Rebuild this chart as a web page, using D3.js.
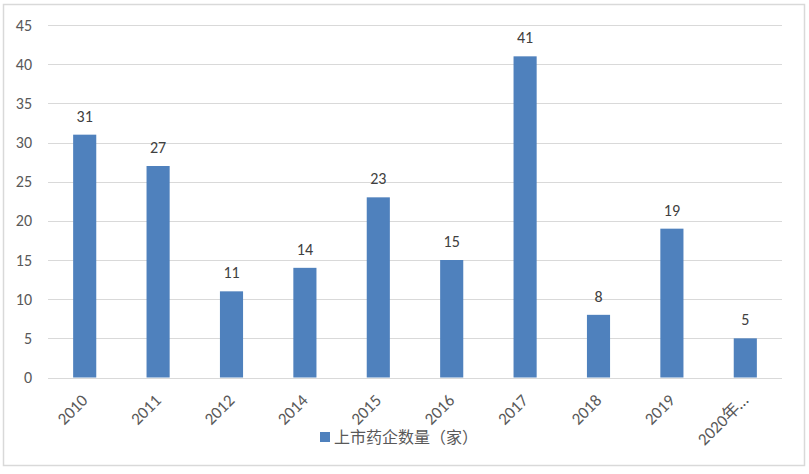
<!DOCTYPE html>
<html>
<head>
<meta charset="utf-8">
<script src="https://d3js.org/d3.v7.min.js"></script>
<style>
  body { margin: 0; background: #fff; }
  text { font-family: Calibri, "Liberation Sans", "Noto Sans CJK SC", sans-serif; }
</style>
</head>
<body>
<div id="chart"></div>
<script>
// years and counts
var years = ["2010", "2011", "2012", "2014", "2015", "2016", "2017", "2018", "2019", "2020年…"];
var counts = [31, 27, 11, 14, 23, 15, 41, 8, 19, 5];
var yTicks = [0, 5, 10, 15, 20, 25, 30, 35, 40, 45];
var seriesName = "上市药企数量（家）";

var width = 809, height = 474;
var plotLeft = 48, plotRight = 782, plotTop = 25, plotBottom = 377.5;

var svg = d3.select("#chart").append("svg")
  .attr("width", width)
  .attr("height", height);

// outer frame
svg.append("rect")
  .attr("x", 3.5).attr("y", 4.5)
  .attr("width", 801).attr("height", 461)
  .attr("fill", "#fff")
  .attr("stroke", "#d9d9d9")
  .attr("stroke-width", 1.5);

var x = d3.scaleBand().domain(years).range([plotLeft, plotRight]).paddingInner(0.685).paddingOuter(0.3425);
var y = d3.scaleLinear().domain([0, 45]).range([plotBottom, plotTop]);

// gridlines
svg.append("g").selectAll("line")
  .data(yTicks)
  .enter().append("line")
  .attr("x1", plotLeft).attr("x2", plotRight)
  .attr("y1", function(d) { return Math.round(y(d)) + 0.5; })
  .attr("y2", function(d) { return Math.round(y(d)) + 0.5; })
  .attr("stroke", "#d9d9d9")
  .attr("stroke-width", 1.2);

// y axis labels
var yAxis = svg.append("g")
  .attr("transform", "translate(" + plotLeft + ",0)")
  .call(d3.axisLeft(y).tickValues(yTicks).tickSize(0).tickPadding(16));
yAxis.select(".domain").remove();
yAxis.selectAll("text")
  .attr("font-size", 16)
  .attr("fill", "#595959")
  .style("font-family", "Calibri, 'Liberation Sans', sans-serif");

// bars
svg.append("g").selectAll("rect")
  .data(counts)
  .enter().append("rect")
  .attr("x", function(d, i) { return x(years[i]); })
  .attr("y", function(d) { return y(d); })
  .attr("width", x.bandwidth())
  .attr("height", function(d) { return y(0) - y(d); })
  .attr("fill", "#4f81bd");

// value labels
svg.append("g").selectAll("text")
  .data(counts)
  .enter().append("text")
  .attr("x", function(d, i) { return x(years[i]) + x.bandwidth() / 2; })
  .attr("y", function(d) { return y(d) - 13; })
  .attr("text-anchor", "middle")
  .attr("font-size", 16)
  .attr("fill", "#404040")
  .text(function(d) { return d; });

// x axis labels, rotated
var xAxis = svg.append("g")
  .attr("transform", "translate(0," + plotBottom + ")")
  .call(d3.axisBottom(x).tickSize(0).tickPadding(0));
xAxis.select(".domain").remove();
xAxis.selectAll("text")
  .attr("font-size", 17)
  .attr("fill", "#595959")
  .attr("text-anchor", "end")
  .attr("dy", 0)
  .attr("transform", "translate(4,24) rotate(-45)");

// legend
var legend = svg.append("g").attr("transform", "translate(320,437)");
legend.append("rect")
  .attr("x", 0).attr("y", -5)
  .attr("width", 10).attr("height", 10)
  .attr("fill", "#4f81bd");
legend.append("text")
  .attr("x", 14).attr("y", 0)
  .attr("dy", "0.35em")
  .attr("font-size", 16)
  .attr("fill", "#595959")
  .text(seriesName);
</script>
</body>
</html>
